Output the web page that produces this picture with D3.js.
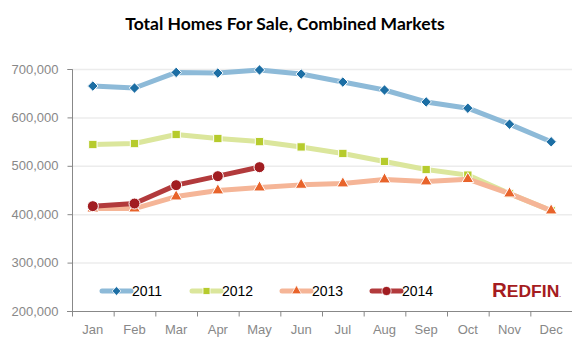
<!DOCTYPE html>
<html>
<head>
<meta charset="utf-8">
<script src="https://cdn.jsdelivr.net/npm/d3@7"></script>
<style>
  body { margin: 0; background: #fff; }
  svg { display: block; }
</style>
</head>
<body>
<div id="chart"></div>
<script>
const months = ["Jan", "Feb", "Mar", "Apr", "May", "Jun", "Jul", "Aug", "Sep", "Oct", "Nov", "Dec"];
const years = ["2011", "2012", "2013", "2014"];
const homes2011 = [664800, 660700, 693000, 691700, 698000, 689600, 673000, 656600, 632000, 619000, 586000, 549600];
const homes2012 = [544000, 546000, 564700, 556400, 550000, 539000, 525500, 509000, 492300, 480700, 442600, 407500];
const homes2013 = [411600, 411600, 436400, 449000, 455000, 460600, 463400, 471600, 467500, 472400, 442600, 407500];
const homes2014 = [416600, 422000, 460000, 478600, 497200];
const yTicks = [200000, 300000, 400000, 500000, 600000, 700000];

const width = 577, height = 352;
const margin = { top: 69, right: 5, bottom: 41, left: 72 };

const styles = {
    "2011": { line: "#8dbad8", mark: "#1c6ea4", shape: d3.symbolDiamond2, size: 70 },
    "2012": { line: "#dbe69c", mark: "#b6cb2c", shape: d3.symbolSquare, size: 70 },
    "2013": { line: "#f5b597", mark: "#e8632a", shape: d3.symbolTriangle, size: 60 },
    "2014": { line: "#b23a3c", mark: "#a11d21", shape: d3.symbolCircle, size: 95 }
};

const series = [homes2011, homes2012, homes2013, homes2014].map((vals, i) => ({
    year: years[i],
    values: vals.map((v, j) => ({ month: months[j], value: v }))
}));

const svg = d3.select("#chart").append("svg")
    .attr("width", width)
    .attr("height", height);

const x = d3.scaleBand()
    .domain(months)
    .range([margin.left, width - margin.right]);

const y = d3.scaleLinear()
    .domain([200000, 700000])
    .range([height - margin.bottom, margin.top]);

// title
svg.append("text")
    .attr("x", 285)
    .attr("y", 30)
    .attr("text-anchor", "middle")
    .style("font-family", "Lato, 'Open Sans', sans-serif")
    .style("font-weight", "bold")
    .style("font-size", "17.5px")
    .style("fill", "#000")
    .text("Total Homes For Sale, Combined Markets");

// gridlines
svg.append("g")
    .selectAll("line")
    .data(yTicks.slice(1))
    .enter()
    .append("line")
    .attr("x1", margin.left)
    .attr("x2", width - margin.right)
    .attr("y1", d => y(d) + 0.5)
    .attr("y2", d => y(d) + 0.5)
    .attr("stroke", "#ececec")
    .attr("stroke-width", 1.5);

// y axis
const yAxis = svg.append("g")
    .attr("transform", `translate(${margin.left + 0.5},0)`)
    .call(d3.axisLeft(y).tickValues(yTicks).tickSize(5).tickPadding(9).tickFormat(d3.format(",")));
yAxis.select(".domain").attr("stroke", "#888").attr("d", `M-5,${y(700000) + 0.5}H0V${y(200000) + 0.5}`);
yAxis.selectAll(".tick line").attr("stroke", "#888");
yAxis.selectAll("text")
    .style("font-family", "'Liberation Sans', Arial, sans-serif")
    .style("font-size", "13px")
    .style("fill", "#888");

// x axis
const xAxis = svg.append("g")
    .attr("transform", `translate(0,${height - margin.bottom + 0.5})`)
    .call(d3.axisBottom(x).tickSize(0).tickPadding(13));
xAxis.select(".domain").attr("stroke", "#888").attr("d", `M${margin.left - 5},0H${width - margin.right}`);
xAxis.selectAll("text")
    .style("font-family", "'Liberation Sans', Arial, sans-serif")
    .style("font-size", "13px")
    .style("fill", "#888");
xAxis.selectAll(".sep")
    .data(months)
    .enter()
    .append("line")
    .attr("x1", d => x(d) + 0.5)
    .attr("x2", d => x(d) + 0.5)
    .attr("y1", 0)
    .attr("y2", 5)
    .attr("stroke", "#888");

// lines
const line = d3.line()
    .x(d => x(d.month) + x.bandwidth() / 2)
    .y(d => y(d.value));

const groups = svg.selectAll(".series")
    .data(series)
    .enter()
    .append("g")
    .attr("class", "series");

groups.append("path")
    .attr("d", d => line(d.values))
    .attr("fill", "none")
    .attr("stroke", d => styles[d.year].line)
    .attr("stroke-width", 5)
    .attr("stroke-linejoin", "round");

groups.selectAll(".pt")
    .data(d => d.values.map(v => ({ ...v, year: d.year })))
    .enter()
    .append("path")
    .attr("class", "pt")
    .attr("transform", d => `translate(${x(d.month) + x.bandwidth() / 2},${y(d.value)})`)
    .attr("d", d => d3.symbol().type(styles[d.year].shape).size(styles[d.year].size)())
    .attr("fill", d => styles[d.year].mark)
    .attr("stroke", "#fff")
    .attr("stroke-width", 1);

// legend
const legendX = [102, 192, 282, 372];
const legend = svg.append("g")
    .selectAll("g")
    .data(years)
    .enter()
    .append("g")
    .attr("transform", (d, i) => `translate(${legendX[i]},291)`);

legend.append("line")
    .attr("x1", 0)
    .attr("x2", 29)
    .attr("stroke", d => styles[d].line)
    .attr("stroke-width", 5)
    .attr("stroke-linecap", "round");

legend.append("path")
    .attr("transform", "translate(14.5,0)")
    .attr("d", d => d3.symbol().type(styles[d].shape).size(styles[d].size * 0.7)())
    .attr("fill", d => styles[d].mark)
    .attr("stroke", "#fff")
    .attr("stroke-width", 0.8);

legend.append("text")
    .attr("x", 30)
    .attr("y", 5)
    .style("font-family", "'Liberation Sans', Arial, sans-serif")
    .style("font-size", "14px")
    .style("fill", "#000")
    .text(d => d);

// logo
const logo = svg.append("text")
    .attr("x", 492)
    .attr("y", 297)
    .attr("textLength", 69)
    .attr("lengthAdjust", "spacingAndGlyphs")
    .style("font-family", "'Liberation Sans', Arial, sans-serif")
    .style("font-weight", "bold")
    .style("fill", "#a51c20");
logo.append("tspan").style("font-size", "20px").text("R");
logo.append("tspan").style("font-size", "17px").text("EDFIN");
logo.append("tspan").style("font-size", "6px").text(".");
</script>
</body>
</html>
